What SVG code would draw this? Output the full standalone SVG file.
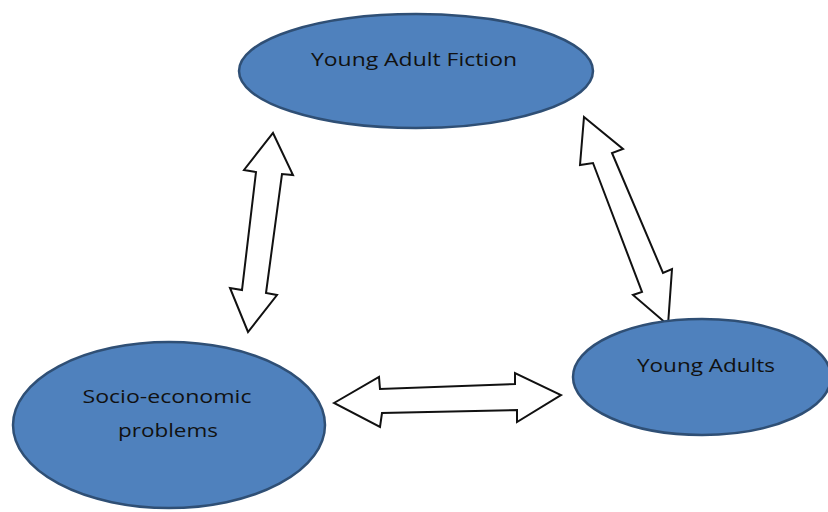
<svg xmlns="http://www.w3.org/2000/svg" width="828" height="512" viewBox="0 0 828 512">
<style>
.node{fill:#4F81BD;stroke:#2F4F75;stroke-width:2.5}
.lbl{font-family:"Open Sans","Liberation Sans",sans-serif;font-size:19px;fill:#111;text-anchor:middle}
.arrow{fill:#fff;stroke:#111;stroke-width:2;stroke-linejoin:miter}
</style>
<rect width="828" height="512" fill="#fff"/>
<g id="connectors">
<polygon class="arrow" points="273,133 293,175 282,174 266,293 277,295 248,332 230,288 242,290 256,172 244,170"/>
<polygon class="arrow" points="584,117 623,149 612,153 663,273 672,269 668,325 633,295 642,292 593,163 580,165"/>
<polygon class="arrow" points="334,403 379,377 380,389 515,384 515,373 561,395 517,422 517,410 382,413 380,427"/>
</g>
<g id="node-yaf">
<ellipse class="node" cx="416" cy="71" rx="177" ry="57"/>
<text class="lbl" x="414" y="66" textLength="206" lengthAdjust="spacingAndGlyphs">Young Adult Fiction</text>
</g>
<g id="node-socio">
<ellipse class="node" cx="169" cy="425" rx="156" ry="83"/>
<text class="lbl" x="167" y="403" textLength="169" lengthAdjust="spacingAndGlyphs">Socio-economic</text>
<text class="lbl" x="168" y="437" textLength="100" lengthAdjust="spacingAndGlyphs">problems</text>
</g>
<g id="node-ya">
<ellipse class="node" cx="702" cy="377" rx="129" ry="58"/>
<text class="lbl" x="706" y="372" textLength="138" lengthAdjust="spacingAndGlyphs">Young Adults</text>
</g>
</svg>
